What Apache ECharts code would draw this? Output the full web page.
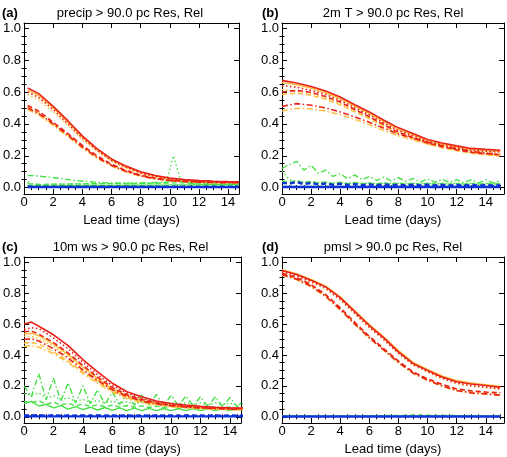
<!DOCTYPE html>
<html><head><meta charset="utf-8">
<script src="https://cdn.jsdelivr.net/npm/echarts@6/dist/echarts.min.js"></script>
<style>html,body{margin:0;padding:0;background:#fff}#c{width:507px;height:457px}</style>
</head><body><div id="c"></div>
<script>
// ---- x positions (lead time, days) ----
const xA = [0.25,1,2,3,4,5,6,7,8,9,10,11,12,13,14,14.75];
const xAHalf = [0.25,0.75,1.25,1.75,2.25,2.75,3.25,3.75,4.25,4.75,5.25,5.75,6.25,6.75,7.25,7.75,8.25,8.75,9.25,9.75,10.25,10.75,11.25,11.75,12.25,12.75,13.25,13.75,14.25,14.75];
const xDay = [0,1,2,3,4,5,6,7,8,9,10,11,12,13,14,15];
const xC = [0,0.5,1,2,3,4,5,6,7,8,9,10,11,12,13,14,15];
const xHalf = [0,0.5,1,1.5,2,2.5,3,3.5,4,4.5,5,5.5,6,6.5,7,7.5,8,8.5,9,9.5,10,10.5,11,11.5,12,12.5,13,13.5,14,14.5,15];

// ---- tick labels ----
const xTickLabels = [0,2,4,6,8,10,12,14];
const yTickLabels = [0.0,0.2,0.4,0.6,0.8,1.0];

// ---- panel titles ----
const panelTags = ['(a)','(b)','(c)','(d)'];
const panelTitles = ['precip > 90.0 pc Res, Rel','2m T > 90.0 pc Res, Rel','10m ws > 90.0 pc Res, Rel','pmsl > 90.0 pc Res, Rel'];
const xAxisTitle = 'Lead time (days)';

// ---- panel (a) precip ----
const aRedSolid   = [0.625,0.59,0.51,0.42,0.325,0.245,0.18,0.135,0.1,0.076,0.06,0.05,0.044,0.04,0.038,0.037];
const aRedDot     = [0.6,0.565,0.49,0.4,0.31,0.235,0.17,0.127,0.092,0.07,0.055,0.046,0.041,0.038,0.036,0.035];
const aRedDash    = [0.515,0.48,0.41,0.34,0.265,0.2,0.147,0.107,0.078,0.059,0.047,0.04,0.036,0.034,0.033,0.033];
const aRedDashDot = [0.5,0.465,0.4,0.33,0.255,0.19,0.14,0.102,0.074,0.056,0.045,0.038,0.034,0.032,0.031,0.031];
const aYelSolid   = [0.612,0.578,0.5,0.41,0.316,0.24,0.175,0.13,0.096,0.073,0.057,0.048,0.042,0.039,0.037,0.036];
const aYelDot     = [0.585,0.55,0.476,0.39,0.3,0.228,0.165,0.12,0.088,0.066,0.051,0.044,0.039,0.036,0.035,0.034];
const aYelDash    = [0.505,0.47,0.4,0.33,0.258,0.195,0.142,0.103,0.075,0.057,0.045,0.039,0.035,0.033,0.032,0.032];
const aYelDashDot = [0.49,0.455,0.39,0.32,0.248,0.185,0.136,0.098,0.071,0.054,0.043,0.037,0.033,0.031,0.03,0.03];
const aGrnSolid   = [0.012,0.01,0.01,0.011,0.011,0.012,0.012,0.012,0.013,0.013,0.013,0.014,0.014,0.014,0.015,0.015,0.015,0.016,0.016,0.016,0.017,0.017,0.017,0.017,0.018,0.018,0.018,0.018,0.018,0.018];
const aGrnDot     = [0.035,0.02,0.018,0.02,0.022,0.022,0.023,0.024,0.024,0.025,0.025,0.025,0.026,0.026,0.026,0.027,0.027,0.028,0.028,0.03,0.2,0.045,0.03,0.029,0.029,0.029,0.029,0.029,0.029,0.029];
const aGrnDash    = [0.024,0.021,0.02,0.021,0.022,0.022,0.023,0.023,0.024,0.024,0.025,0.025,0.025,0.026,0.026,0.027,0.027,0.028,0.028,0.029,0.03,0.03,0.03,0.03,0.029,0.029,0.029,0.029,0.029,0.029];
const aGrnDashDot = [0.075,0.075,0.07,0.066,0.06,0.054,0.048,0.043,0.039,0.035,0.032,0.03,0.029,0.028,0.028,0.028,0.029,0.03,0.032,0.035,0.045,0.04,0.03,0.022,0.02,0.02,0.02,0.02,0.02,0.02];
const aBluSolid   = [0.003,0.003,0.003,0.003,0.003,0.003,0.003,0.003,0.003,0.003,0.003,0.003,0.003,0.003,0.003,0.003];
const aBluDash    = [0.007,0.006,0.006,0.006,0.006,0.006,0.006,0.006,0.006,0.006,0.006,0.006,0.006,0.006,0.006,0.006];

// ---- panel (b) 2m T ----
const bRedSolid   = [0.673,0.656,0.635,0.606,0.569,0.52,0.475,0.423,0.375,0.34,0.302,0.28,0.262,0.246,0.24,0.235];
const bRedDot     = [0.64,0.63,0.61,0.585,0.548,0.5,0.456,0.405,0.358,0.325,0.29,0.268,0.25,0.234,0.228,0.224];
const bRedDash    = [0.6,0.61,0.598,0.572,0.537,0.49,0.445,0.395,0.348,0.315,0.28,0.257,0.238,0.222,0.213,0.206];
const bRedDashDot = [0.51,0.527,0.517,0.5,0.475,0.444,0.41,0.372,0.337,0.31,0.284,0.262,0.244,0.227,0.216,0.207];
const bYelSolid   = [0.66,0.645,0.625,0.595,0.558,0.51,0.465,0.413,0.365,0.33,0.293,0.272,0.254,0.238,0.232,0.228];
const bYelDot     = [0.615,0.605,0.588,0.563,0.528,0.482,0.44,0.39,0.345,0.313,0.28,0.258,0.241,0.226,0.22,0.216];
const bYelDash    = [0.585,0.592,0.58,0.555,0.52,0.476,0.432,0.384,0.338,0.306,0.273,0.25,0.232,0.216,0.207,0.2];
const bYelDashDot = [0.48,0.497,0.495,0.48,0.458,0.428,0.395,0.358,0.325,0.3,0.275,0.253,0.236,0.218,0.207,0.198];
const bGrnSolid   = [0.008,0.008,0.008,0.008,0.008,0.008,0.008,0.008,0.008,0.008,0.008,0.008,0.008,0.008,0.008,0.008];
const bGrnDot     = [0.105,0.05,0.04,0.035,0.035,0.032,0.033,0.03,0.03,0.028,0.03,0.027,0.028,0.026,0.028,0.025,0.027,0.025,0.027,0.025,0.026,0.024,0.026,0.024,0.026,0.024,0.026,0.024,0.025,0.024,0.025];
const bGrnDash    = [0.04,0.035,0.045,0.03,0.04,0.028,0.036,0.026,0.034,0.025,0.032,0.024,0.03,0.023,0.03,0.023,0.029,0.022,0.028,0.022,0.028,0.022,0.027,0.022,0.027,0.021,0.027,0.021,0.026,0.021,0.026];
const bGrnDashDot = [0.12,0.145,0.165,0.11,0.14,0.09,0.11,0.07,0.088,0.057,0.08,0.05,0.07,0.045,0.066,0.042,0.062,0.04,0.058,0.035,0.055,0.033,0.052,0.032,0.05,0.03,0.05,0.03,0.048,0.03,0.046];
const bBluSolid   = [0.004,0.004,0.004,0.004,0.004,0.004,0.004,0.004,0.004,0.004,0.004,0.004,0.004,0.004,0.004,0.004];
const bBluDash    = [0.03,0.025,0.035,0.022,0.03,0.02,0.026,0.018,0.024,0.017,0.022,0.016,0.02,0.015,0.02,0.015,0.019,0.014,0.018,0.014,0.018,0.014,0.017,0.013,0.017,0.013,0.017,0.013,0.016,0.013,0.016];

// ---- panel (c) 10m ws ----
const cRedSolid   = [0.6,0.612,0.585,0.53,0.46,0.37,0.29,0.217,0.162,0.13,0.102,0.086,0.076,0.068,0.062,0.059,0.057];
const cRedDot     = [0.565,0.575,0.57,0.51,0.44,0.352,0.272,0.202,0.152,0.12,0.096,0.081,0.071,0.064,0.059,0.056,0.054];
const cRedDash    = [0.55,0.555,0.535,0.48,0.412,0.332,0.256,0.19,0.142,0.112,0.09,0.076,0.067,0.06,0.056,0.053,0.051];
const cRedDashDot = [0.5,0.505,0.49,0.44,0.38,0.302,0.235,0.175,0.131,0.102,0.084,0.071,0.063,0.057,0.053,0.05,0.048];
const cYelSolid   = [0.535,0.54,0.525,0.47,0.402,0.322,0.247,0.182,0.136,0.106,0.086,0.073,0.065,0.059,0.055,0.052,0.05];
const cYelDot     = [0.52,0.52,0.505,0.455,0.39,0.312,0.24,0.177,0.132,0.102,0.083,0.07,0.062,0.057,0.053,0.05,0.048];
const cYelDash    = [0.475,0.48,0.47,0.422,0.36,0.29,0.225,0.166,0.123,0.096,0.079,0.067,0.06,0.055,0.051,0.048,0.046];
const cYelDashDot = [0.455,0.46,0.45,0.408,0.35,0.28,0.216,0.16,0.118,0.092,0.076,0.065,0.058,0.053,0.049,0.046,0.044];
const cGrnSolid   = [0.085,0.1,0.07,0.08,0.058,0.072,0.05,0.066,0.046,0.062,0.044,0.06,0.042,0.058,0.04,0.056,0.04,0.055,0.04,0.054,0.04,0.054,0.04,0.053,0.04,0.053,0.04,0.052,0.04,0.052,0.045];
const cGrnDot     = [0.15,0.14,0.155,0.12,0.135,0.11,0.122,0.1,0.112,0.095,0.105,0.09,0.1,0.087,0.097,0.085,0.095,0.083,0.095,0.082,0.093,0.08,0.092,0.08,0.09,0.078,0.09,0.078,0.088,0.077,0.088];
const cGrnDash    = [0.1,0.09,0.105,0.08,0.095,0.075,0.088,0.07,0.082,0.067,0.078,0.065,0.075,0.063,0.073,0.062,0.071,0.06,0.07,0.06,0.068,0.058,0.067,0.058,0.066,0.057,0.065,0.056,0.064,0.056,0.063];
const cGrnDashDot = [0.2,0.13,0.28,0.11,0.25,0.1,0.22,0.09,0.2,0.085,0.175,0.08,0.16,0.08,0.15,0.075,0.14,0.075,0.145,0.07,0.14,0.07,0.135,0.07,0.13,0.065,0.13,0.065,0.125,0.065,0.11];
const cBluSolid   = [0.003,0.003,0.003,0.003,0.003,0.003,0.003,0.003,0.003,0.003,0.003,0.003,0.003,0.003,0.003,0.003];
const cBluDash    = [0.01,0.008,0.011,0.007,0.01,0.007,0.009,0.007,0.009,0.007,0.009,0.007,0.009,0.007,0.009,0.007,0.009,0.007,0.009,0.007,0.009,0.007,0.009,0.007,0.009,0.007,0.009,0.007,0.009,0.007,0.009];

// ---- panel (d) pmsl ----
const dRedSolid   = [0.946,0.92,0.883,0.84,0.77,0.68,0.59,0.51,0.42,0.345,0.3,0.258,0.227,0.212,0.202,0.19];
const dRedDot     = [0.94,0.912,0.875,0.832,0.76,0.67,0.58,0.5,0.412,0.338,0.293,0.25,0.218,0.202,0.192,0.18];
const dRedDash    = [0.93,0.9,0.855,0.79,0.705,0.61,0.52,0.44,0.36,0.29,0.245,0.21,0.18,0.168,0.16,0.155];
const dRedDashDot = [0.92,0.89,0.845,0.78,0.695,0.6,0.512,0.432,0.352,0.283,0.238,0.2,0.17,0.155,0.148,0.14];
const dYelSolid   = [0.95,0.925,0.888,0.845,0.775,0.686,0.597,0.515,0.428,0.352,0.306,0.264,0.234,0.218,0.208,0.198];
const dYelDot     = [0.935,0.908,0.87,0.826,0.754,0.664,0.574,0.494,0.407,0.333,0.288,0.246,0.214,0.198,0.188,0.177];
const dYelDash    = [0.925,0.895,0.85,0.785,0.7,0.605,0.515,0.436,0.356,0.287,0.242,0.207,0.178,0.165,0.157,0.152];
const dYelDashDot = [0.915,0.885,0.84,0.775,0.69,0.595,0.507,0.428,0.348,0.28,0.235,0.197,0.168,0.153,0.146,0.138];
const dGrnSolid   = [0.003,0.003,0.003,0.003,0.003,0.003,0.003,0.004,0.004,0.004,0.004,0.004,0.004,0.004,0.004,0.004];
const dGrnDash    = [0.005,0.005,0.005,0.005,0.006,0.006,0.007,0.008,0.009,0.01,0.01,0.009,0.008,0.007,0.006,0.006];
const dBluSolid   = [0.002,0.002,0.002,0.002,0.002,0.002,0.002,0.002,0.002,0.002,0.002,0.002,0.002,0.002,0.002,0.002];

// ---- styling ----
const COL = {red:'#e8221a', yel:'#ffbf40', grn:'#45e045', blu:'#1030d8'};
const WID = {red:1.6, yel:1.5, grn:1.4, blu:2.4};
const DASH = {solid:'solid', dot:[1.5,2.5], dash:[5,3], dashdot:[6,2.5,1.5,2.5]};
const FONT = "'Liberation Sans', Arial, Helvetica, sans-serif";

const panels = [
  {grid:{left:21,top:23,width:218,height:171}, xmax:14.75, lines:[
    ['grn','solid',xAHalf,aGrnSolid],['grn','dash',xAHalf,aGrnDash],['grn','dot',xAHalf,aGrnDot],['grn','dashdot',xAHalf,aGrnDashDot],
    ['blu','dash',xA,aBluDash],['blu','solid',xA,aBluSolid],
    ['yel','dashdot',xA,aYelDashDot],['yel','dash',xA,aYelDash],['yel','dot',xA,aYelDot],['yel','solid',xA,aYelSolid],
    ['red','dashdot',xA,aRedDashDot],['red','dash',xA,aRedDash],['red','dot',xA,aRedDot],['red','solid',xA,aRedSolid]]},
  {grid:{left:282,top:23,width:222,height:171}, xmax:15.25, lines:[
    ['grn','solid',xDay,bGrnSolid],['grn','dash',xHalf,bGrnDash],['grn','dot',xHalf,bGrnDot],['grn','dashdot',xHalf,bGrnDashDot],
    ['blu','dash',xHalf,bBluDash],['blu','solid',xDay,bBluSolid],
    ['yel','dashdot',xDay,bYelDashDot],['yel','dash',xDay,bYelDash],['yel','dot',xDay,bYelDot],['yel','solid',xDay,bYelSolid],
    ['red','dashdot',xDay,bRedDashDot],['red','dash',xDay,bRedDash],['red','dot',xDay,bRedDot],['red','solid',xDay,bRedSolid]]},
  {grid:{left:20,top:257,width:221,height:172}, xmax:14.75, lines:[
    ['grn','solid',xHalf,cGrnSolid],['grn','dash',xHalf,cGrnDash],['grn','dot',xHalf,cGrnDot],['grn','dashdot',xHalf,cGrnDashDot],
    ['blu','dash',xHalf,cBluDash],['blu','solid',xDay,cBluSolid],
    ['yel','dashdot',xC,cYelDashDot],['yel','dash',xC,cYelDash],['yel','dot',xC,cYelDot],['yel','solid',xC,cYelSolid],
    ['red','dashdot',xC,cRedDashDot],['red','dash',xC,cRedDash],['red','dot',xC,cRedDot],['red','solid',xC,cRedSolid]]},
  {grid:{left:282,top:257,width:222,height:172}, xmax:15.25, lines:[
    ['grn','solid',xDay,dGrnSolid],['grn','dash',xDay,dGrnDash],
    ['blu','solid',xDay,dBluSolid],
    ['yel','dashdot',xDay,dYelDashDot],['yel','dash',xDay,dYelDash],['yel','dot',xDay,dYelDot],['yel','solid',xDay,dYelSolid],
    ['red','dashdot',xDay,dRedDashDot],['red','dash',xDay,dRedDash],['red','dot',xDay,dRedDot],['red','solid',xDay,dRedSolid]]}
];

const YMIN = -0.04, YMAX = 1.033;
function minorList(from, to, step, majorStep){
  const out=[]; for(let v=from; v<=to+1e-9; v+=step){ const r=Math.round(v*1000)/1000; if(Math.abs(r/majorStep-Math.round(r/majorStep))>1e-6) out.push(r);} return out;
}
const yMinor = minorList(0.05, 1.0, 0.05, 0.2);
const yMajor = yTickLabels;

const grids=[], xAxes=[], yAxes=[], series=[], graphic=[];
panels.forEach((p,i)=>{
  grids.push(Object.assign({containLabel:false}, p.grid));
  const xMajor = xTickLabels.filter(v=>v<=p.xmax);
  const xMinor = minorList(0.5, p.xmax, 0.5, 2);
  const baseX = {type:'value', gridIndex:i, min:0, max:p.xmax, splitLine:{show:false}, axisPointer:{show:false}};
  const baseY = {type:'value', gridIndex:i, min:YMIN, max:YMAX, splitLine:{show:false}, axisPointer:{show:false}};
  const line = {show:true, onZero:false, lineStyle:{color:'#000', width:1}};
  const mainX = xAxes.length;
  xAxes.push(Object.assign({}, baseX, {position:'bottom', axisLine:line,
    axisTick:{show:true, inside:true, length:5, customValues:xMajor, lineStyle:{color:'#000'}},
    axisLabel:{show:true, customValues:xMajor, margin:2, fontSize:13, color:'#000', fontFamily:FONT, formatter:v=>String(v)},
    name:xAxisTitle, nameLocation:'middle', nameGap:20, nameTextStyle:{fontSize:13, color:'#000', fontFamily:FONT}}));
  xAxes.push(Object.assign({}, baseX, {position:'bottom', axisLine:{show:false},
    axisTick:{show:true, inside:true, length:2.5, customValues:xMinor, lineStyle:{color:'#000'}}, axisLabel:{show:false}}));
  xAxes.push(Object.assign({}, baseX, {position:'top', axisLine:line,
    axisTick:{show:true, inside:true, length:5, customValues:xMajor, lineStyle:{color:'#000'}}, axisLabel:{show:false}}));
  xAxes.push(Object.assign({}, baseX, {position:'top', axisLine:{show:false},
    axisTick:{show:true, inside:true, length:2.5, customValues:xMinor, lineStyle:{color:'#000'}}, axisLabel:{show:false}}));
  const mainY = yAxes.length;
  yAxes.push(Object.assign({}, baseY, {position:'left', axisLine:line,
    axisTick:{show:true, inside:true, length:5, customValues:yMajor, lineStyle:{color:'#000'}},
    axisLabel:{show:true, customValues:yMajor, margin:3, fontSize:13, color:'#000', fontFamily:FONT, formatter:v=>v.toFixed(1)}}));
  yAxes.push(Object.assign({}, baseY, {position:'left', axisLine:{show:false},
    axisTick:{show:true, inside:true, length:2.5, customValues:yMinor, lineStyle:{color:'#000'}}, axisLabel:{show:false}}));
  yAxes.push(Object.assign({}, baseY, {position:'right', axisLine:line,
    axisTick:{show:true, inside:true, length:5, customValues:yMajor, lineStyle:{color:'#000'}}, axisLabel:{show:false}}));
  yAxes.push(Object.assign({}, baseY, {position:'right', axisLine:{show:false},
    axisTick:{show:true, inside:true, length:2.5, customValues:yMinor, lineStyle:{color:'#000'}}, axisLabel:{show:false}}));

  p.lines.forEach(([c,s,xs,ys])=>{
    series.push({type:'line', xAxisIndex:mainX, yAxisIndex:mainY, showSymbol:false, symbol:'none', silent:true,
      clip:true, animation:false,
      lineStyle:{color:COL[c], width:WID[c], type:DASH[s]},
      data: xs.map((x,k)=>[x, ys[k]])});
  });

  const cx = p.grid.left + p.grid.width/2;
  const ty = p.grid.top - 10;
  graphic.push({type:'text', x:cx, y:ty, style:{text:panelTitles[i], font:'13px '+FONT, fill:'#000', textAlign:'center', textVerticalAlign:'middle'}});
  graphic.push({type:'text', x:(i%2===0?2:262), y:ty, style:{text:panelTags[i], font:'bold 13px '+FONT, fill:'#000', textAlign:'left', textVerticalAlign:'middle'}});
});

const chart = echarts.init(document.getElementById('c'), null, {renderer:'canvas'});
chart.setOption({animation:false, backgroundColor:'#fff', grid:grids, xAxis:xAxes, yAxis:yAxes, series:series, graphic:graphic});
</script></body></html>
